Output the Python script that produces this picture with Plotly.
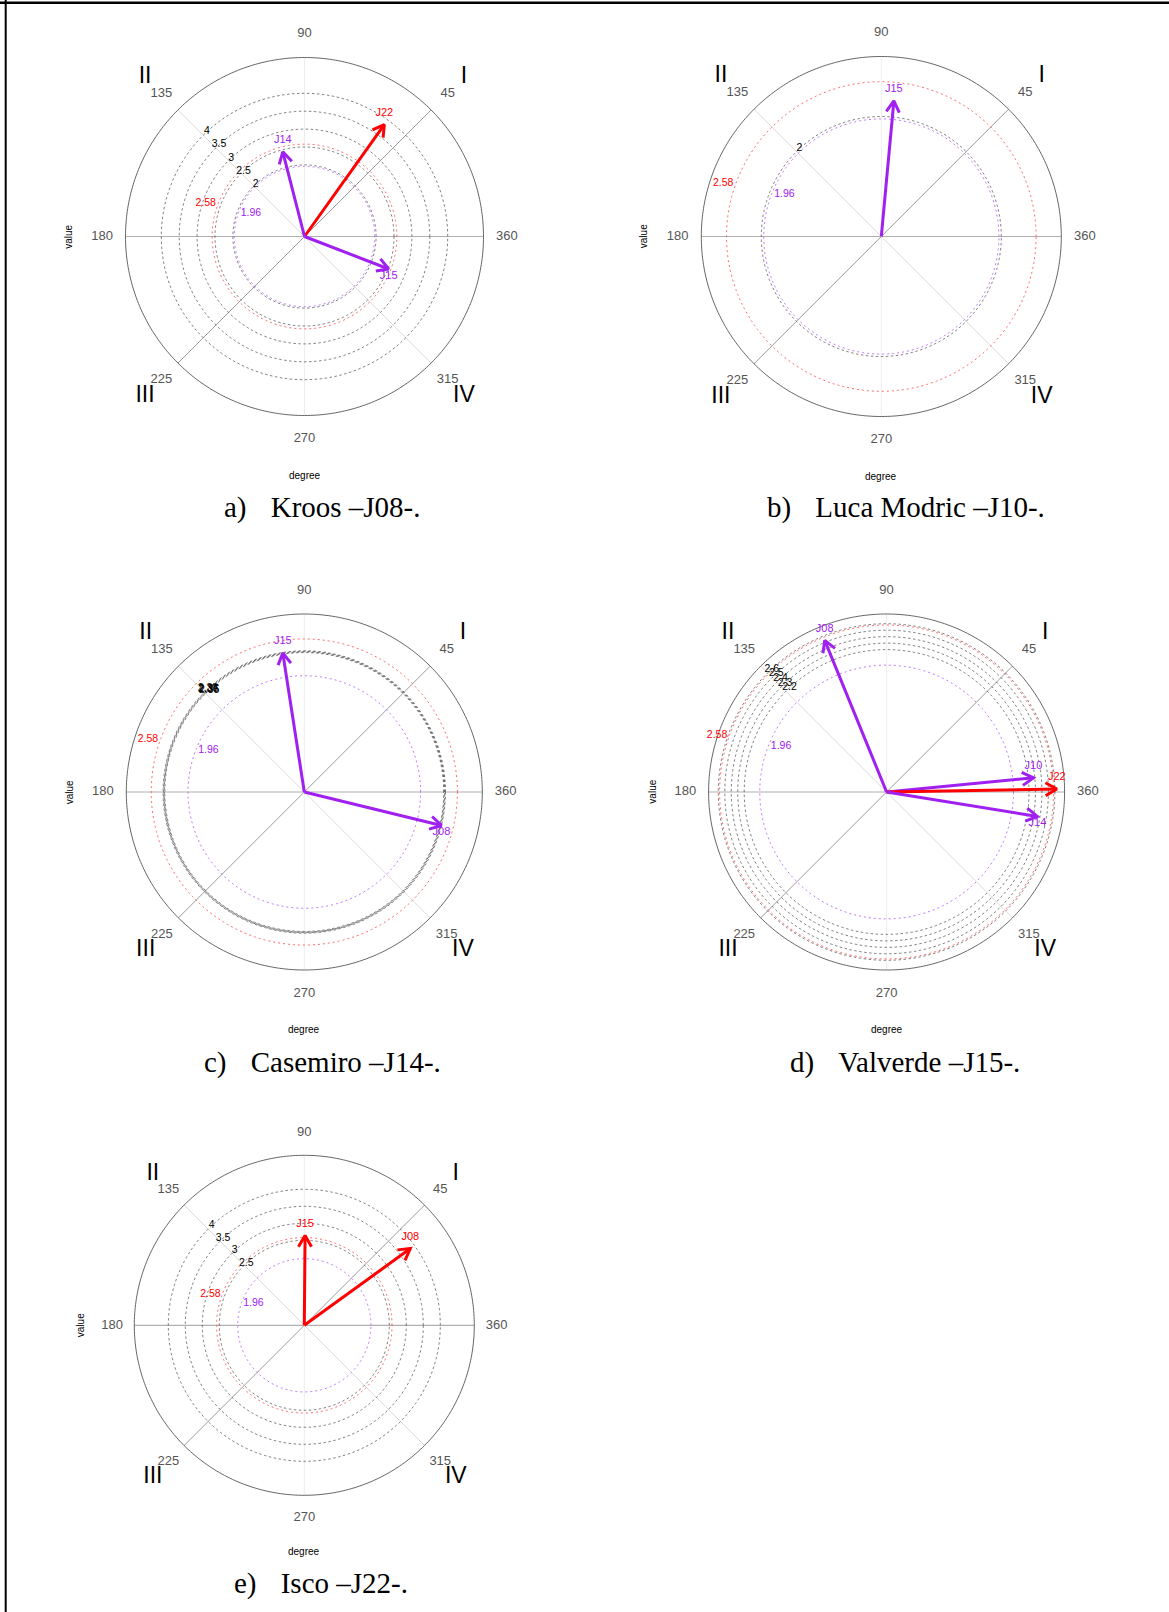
import numpy as np
import plotly.graph_objects as go

W, H = 1169, 1612

# ---------------- data ----------------
panel_letters = ["a)", "b)", "c)", "d)", "e)"]
captions = ["Kroos –J08-.", "Luca Modric –J10-.", "Casemiro –J14-.", "Valverde –J15-.", "Isco –J22-."]
radial_max = [5, 3, 3, 2.75, 5]
grid_values = [
    [2, 2.5, 3, 3.5, 4],
    [2],
    [2.35, 2.36, 2.37, 2.38],
    [2.2, 2.3, 2.4, 2.5, 2.6],
    [2.5, 3, 3.5, 4],
]
grid_labels = [
    ["2", "2.5", "3", "3.5", "4"],
    ["2"],
    ["2.35", "2.36", "2.37", "2.38"],
    ["2.2", "2.3", "2.4", "2.5", "2.6"],
    ["2.5", "3", "3.5", "4"],
]
vec_names = [
    ["J22", "J14", "J15"],
    ["J15"],
    ["J15", "J08"],
    ["J08", "J10", "J22", "J14"],
    ["J15", "J08"],
]
vec_values = [
    [3.84, 2.44, 2.52],
    [2.27],
    [2.37, 2.38],
    [2.53, 2.28, 2.63, 2.36],
    [2.64, 3.85],
]
vec_angles = [
    [54.5, 104.4, 338.9],
    [84.7],
    [98.8, 346.3],
    [112.2, 5.5, 1.0, 350.8],
    [89.5, 35.9],
]
z_values = [1.96, 2.58]
z_labels = ["1.96", "2.58"]
angle_ticks = [45, 90, 135, 180, 225, 270, 315, 0]
angle_tick_labels = ["45", "90", "135", "180", "225", "270", "315", "360"]
quadrant_angles = [45, 135, 225, 315]
quadrant_labels = ["I", "II", "III", "IV"]

# ---------------- layout / style ----------------
centers = [(304.5, 236.5), (881.3, 236.5), (304.3, 792.0), (886.6, 792.0), (304.3, 1325.3)]
radii_px = [179, 180, 178, 178, 170]
caption_x = [222, 765, 201.5, 787.6, 232]
caption_y = [507, 507, 1062, 1062, 1583]
EXT = 1.3
RED = "#FF0000"
PURPLE = "#A020F0"
SANS = "Liberation Sans, Arial, sans-serif"
SERIF = "Liberation Serif, Times New Roman, serif"
z_colors = [PURPLE, RED]
z_circle_colors = ["#b866ff", "#ff5a5a"]
spokes = [(0, 180, "#b0b0b0", 1.2), (90, 270, "#ededed", 1.0),
          (45, 225, "#8f8f8f", 0.9), (135, 315, "#dadada", 1.0)]

fig = go.Figure()
circle_theta = np.arange(0, 361, 1)
annotations = []
layout_polars = {}


def add(trace):
    fig.add_trace(trace)


for i in range(5):
    sp = "polar" if i == 0 else f"polar{i + 1}"
    cx, cy = centers[i]
    R = radii_px[i]
    rmax = radial_max[i]
    Rd = EXT * R
    layout_polars[sp] = dict(
        domain=dict(x=[(cx - Rd) / W, (cx + Rd) / W],
                    y=[(H - cy - Rd) / H, (H - cy + Rd) / H]),
        bgcolor="rgba(0,0,0,0)",
        radialaxis=dict(visible=False, range=[0, EXT * rmax]),
        angularaxis=dict(visible=False, rotation=0, direction="counterclockwise"),
    )
    common = dict(subplot=sp, showlegend=False, hoverinfo="skip", cliponaxis=False)

    # spokes
    for a1, a2, col, w in spokes:
        add(go.Scatterpolar(r=[rmax, 0, rmax], theta=[a1, a1, a2], mode="lines",
                            line=dict(color=col, width=w), **common))
    # outer circle
    add(go.Scatterpolar(r=[rmax] * len(circle_theta), theta=circle_theta, mode="lines",
                        line=dict(color="#555555", width=0.9), **common))
    # grid circles
    for g in grid_values[i]:
        add(go.Scatterpolar(r=[g] * len(circle_theta), theta=circle_theta, mode="lines",
                            line=dict(color="#4a4a4a", width=0.7, dash="2.5px,2.5px"), **common))
    # z circles
    for zv, zc in zip(z_values, z_circle_colors):
        add(go.Scatterpolar(r=[zv] * len(circle_theta), theta=circle_theta, mode="lines",
                            line=dict(color=zc, width=0.9, dash="2px,3px"), **common))
    # grid labels
    add(go.Scatterpolar(r=grid_values[i], theta=[133] * len(grid_values[i]), mode="text",
                        text=grid_labels[i], textposition="middle center",
                        textfont=dict(family=SANS, size=10.5, color="black"), **common))
    # z labels
    off = 0.066 * rmax
    add(go.Scatterpolar(r=[z_values[0] - off, z_values[1] + off], theta=[156.5, 161.5],
                        mode="text", text=z_labels, textposition="middle center",
                        textfont=dict(family=SANS, size=10.5, color=z_colors), **common))
    # angular tick labels
    add(go.Scatterpolar(r=[1.131 * rmax] * len(angle_ticks), theta=angle_ticks, mode="text",
                        text=angle_tick_labels, textposition="middle center",
                        textfont=dict(family=SANS, size=13, color="#555555"), **common))
    # quadrant numerals
    add(go.Scatterpolar(r=[1.26 * rmax] * 4, theta=quadrant_angles, mode="text",
                        text=quadrant_labels, textposition="middle center",
                        textfont=dict(family=SANS, size=23, color="black"), **common))

    # vectors
    ppu = R / rmax
    head = 13.0 / ppu
    for name, v, a in zip(vec_names[i], vec_values[i], vec_angles[i]):
        col = RED if v >= 2.58 else PURPLE
        ar = np.radians(a)
        tx, ty = v * np.cos(ar), v * np.sin(ar)
        hr, ht = [], []
        for s in (1, -1):
            b = ar + np.pi + s * np.radians(30)
            px, py = tx + head * np.cos(b), ty + head * np.sin(b)
            hr.append(float(np.hypot(px, py)))
            ht.append(float(np.degrees(np.arctan2(py, px))))
        add(go.Scatterpolar(r=[0, v], theta=[a, a], mode="lines",
                            line=dict(color=col, width=3), **common))
        add(go.Scatterpolar(r=[hr[0], v, hr[1]], theta=[ht[0], a, ht[1]], mode="lines",
                            line=dict(color=col, width=3), **common))
        up = np.sin(ar) >= 0
        add(go.Scatterpolar(r=[v], theta=[a], mode="markers+text", text=[name],
                            textposition="top center" if up else "bottom center",
                            marker=dict(size=8 if up else 1, opacity=0),
                            textfont=dict(family=SANS, size=11, color=col), **common))

    # axis titles
    annotations.append(dict(x=(cx - 1.32 * R) / W, y=(H - cy) / H, xref="paper", yref="paper",
                            text="value", showarrow=False, textangle=-90,
                            font=dict(family=SANS, size=10, color="black"),
                            xanchor="center", yanchor="middle"))
    annotations.append(dict(x=cx / W, y=(H - cy - 1.333 * R) / H, xref="paper", yref="paper",
                            text="degree", showarrow=False,
                            font=dict(family=SANS, size=10, color="black"),
                            xanchor="center", yanchor="middle"))
    # caption
    annotations.append(dict(x=caption_x[i] / W, y=(H - caption_y[i]) / H, xref="paper", yref="paper",
                            text=panel_letters[i] + "\u00a0\u00a0\u00a0\u200a" + captions[i],
                            showarrow=False, font=dict(family=SERIF, size=29, color="black"),
                            xanchor="left", yanchor="middle"))

shapes = [
    dict(type="line", xref="paper", yref="paper", x0=0, x1=1, y0=(H - 2.8) / H, y1=(H - 2.8) / H,
         line=dict(color="black", width=2.6)),
    dict(type="line", xref="paper", yref="paper", x0=5.7 / W, x1=5.7 / W, y0=0, y1=1,
         line=dict(color="black", width=2)),
]

fig.update_layout(
    width=W, height=H, autosize=False,
    margin=dict(l=0, r=0, t=0, b=0),
    paper_bgcolor="white", plot_bgcolor="white",
    annotations=annotations, shapes=shapes,
    **layout_polars,
)

fig.write_html("out.html", config={"displayModeBar": False},
               post_script="document.body.style.margin='0';document.body.style.overflow='hidden';")
